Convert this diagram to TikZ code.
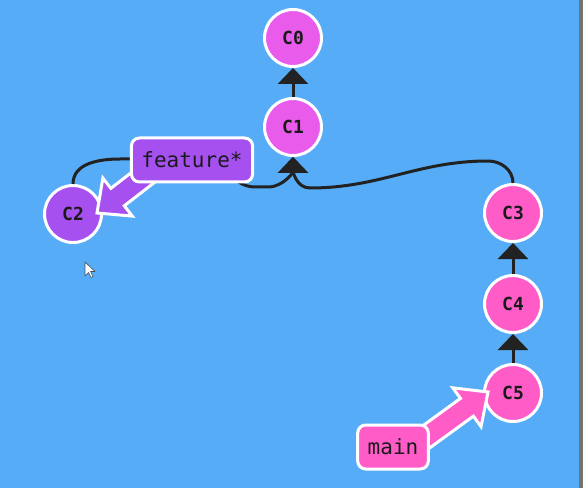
\documentclass[tikz,border=0pt]{standalone}
\usepackage{fontspec}
\setmonofont{DejaVu Sans Mono}
\usetikzlibrary{arrows.meta,calc}
\definecolor{bg}{HTML}{56ACF6}
\definecolor{cmag}{HTML}{E95BEA}
\definecolor{cpur}{HTML}{A650F0}
\definecolor{cpink}{HTML}{FF5CC8}
\definecolor{ink}{HTML}{1A1A1A}
\definecolor{edgeink}{HTML}{222222}
\newcommand\fatarrow[3]{%
  \draw[fatline, fill=#3]
    ($(#1)!11pt!90:(#2)$) --
    ($(#2)!26pt!(#1)!11pt!-90:(#1)$) --
    ($(#2)!26pt!(#1)!24pt!-90:(#1)$) --
    (#2) --
    ($(#2)!26pt!(#1)!24pt!90:(#1)$) --
    ($(#2)!26pt!(#1)!11pt!90:(#1)$) --
    ($(#1)!11pt!-90:(#2)$) -- cycle;}
\begin{document}
\begin{tikzpicture}[x=1pt,y=1pt,
  commit/.style={circle, draw=white, line width=3pt, minimum size=57pt,
    inner sep=0pt, text=ink, font=\ttfamily\bfseries\fontsize{18}{18}\selectfont},
  branchbox/.style={rectangle, rounded corners=8pt, draw=white, line width=3pt,
    minimum height=44pt, inner xsep=10pt, inner ysep=0pt, text=ink,
    font=\ttfamily\fontsize{21}{21}\selectfont},
  parent/.style={draw=edgeink, line width=3pt,
    -{Triangle[length=16pt, width=30pt]}},
  fatline/.style={draw=white, line width=3pt, line join=miter}
]
\useasboundingbox (0,0) rectangle (583,488);
\fill[bg] (0,0) rectangle (583,488);
\fill[gray!90!black] (579,0) rectangle (583,488);

% commits
\node[commit, fill=cmag]  (c0) at (293,450) {C0};
\node[commit, fill=cmag]  (c1) at (293,361) {C1};
\node[commit, fill=cpur]  (c2) at (73,274)  {C2};
\node[commit, fill=cpink] (c3) at (513,275) {C3};
\node[commit, fill=cpink] (c4) at (513,184) {C4};
\node[commit, fill=cpink] (c5) at (513,95)  {C5};

% parent links
\draw[parent] (c1.north) -- (c0.south);
\draw[parent] (c4.north) -- (c3.south);
\draw[parent] (c5.north) -- (c4.south);
\draw[parent] (c2.north) to[out=90,in=180] (120,329) -- (200,329)
  to[out=0,in=180] (255,301) -- (268,301) to[out=0,in=-90] (c1.south);
\draw[parent] (c3.north) to[out=90,in=0] (488,327)
  to[out=180,in=0] (310,300) to[out=180,in=-90] (c1.south);

% branch pointers
\coordinate (fa) at (150,316);
\coordinate (fb) at (97,275);
\coordinate (ma) at (415,43);
\coordinate (mb) at (488,96);
\fatarrow{fa}{fb}{cpur}
\fatarrow{ma}{mb}{cpink}

\node[branchbox, fill=cpur]  (feature) at (192,328) {feature*};
\node[branchbox, fill=cpink] (main)    at (393,41)  {main};

% mouse cursor
\draw[fill=white, draw=black!70, line width=0.6pt, line join=round]
  (85,226) -- (85,212) -- (88.5,215.5) -- (91,210.5) -- (93,211.5)
  -- (90.5,216.5) -- (95,216.5) -- cycle;
\end{tikzpicture}
\end{document}
